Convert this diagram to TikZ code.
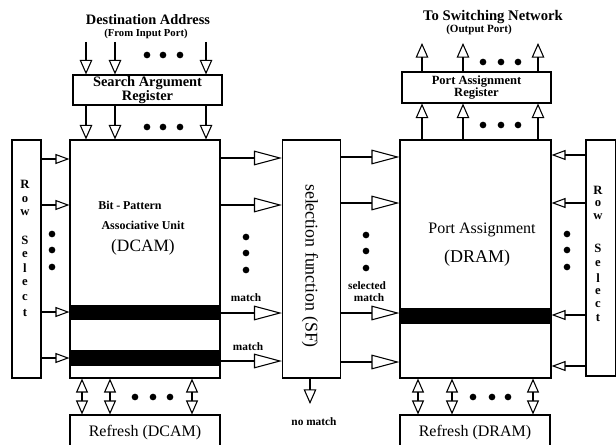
\documentclass[tikz,border=0pt]{standalone}
\usepackage{fontspec}
\setmainfont{Liberation Serif}
\usetikzlibrary{arrows.meta}
\begin{document}
\begin{tikzpicture}[x=0.75pt,y=-0.75pt,
  box/.style={draw, line width=0.8pt, inner sep=0pt},
  tri/.style={-{Triangle[open,length=11pt,width=9.5pt]}, line width=0.8pt},
  bigtri/.style={-{Triangle[open,length=21pt,width=11pt]}, line width=0.8pt},
  smtri/.style={-{Triangle[open,length=10.5pt,width=7.5pt]}, line width=0.8pt},
  bitri/.style={{Triangle[open,length=10.5pt,width=9pt]}-{Triangle[open,length=10.5pt,width=9pt]}, line width=0.8pt},
  dot/.style={circle, fill, inner sep=0pt, minimum size=5pt},
  bar/.style={fill=black, draw=none},
  sml/.style={inner sep=0pt, font=\fontsize{8.5}{8}\selectfont\bfseries},
  rs/.style={inner sep=0pt, font=\fontsize{9.5}{10}\selectfont\bfseries},
]
\useasboundingbox (0,0) rectangle (616,445);

% boxes
\node[box, minimum width=111.75pt, minimum height=22.5pt, align=center,
      font=\fontsize{10.8}{9}\selectfont\bfseries] (SAR) at (147.5,90) {Search Argument\\Register};
\node[box, minimum width=111.75pt, minimum height=23.25pt, align=center,
      font=\fontsize{9.4}{9.5}\selectfont\bfseries] (PAR) at (476.5,87.5) {Port Assignment\\Register};
\node[box, minimum width=112.5pt, minimum height=178.5pt] (DCAM) at (145,259) {};
\node[box, minimum width=21.75pt, minimum height=178.5pt] (RSL) at (26.5,259) {};
\node[box, minimum width=43.5pt, minimum height=178.5pt] (SF) at (311.5,259) {};
\node[box, minimum width=113.25pt, minimum height=178.5pt] (DRAM) at (475.5,259) {};
\node[box, minimum width=22.5pt, minimum height=177pt] (RSR) at (601,258) {};
\node[box, minimum width=112.5pt, minimum height=27.75pt] (RD) at (145,433.5) {};
\node[box, minimum width=112.5pt, minimum height=27.75pt] (RR) at (475,433.5) {};

% black bars
\fill[bar] (DCAM.west |- 0,305) rectangle (DCAM.east |- 0,320);
\fill[bar] (DCAM.west |- 0,350) rectangle (DCAM.east |- 0,366);
\fill[bar] (DRAM.west |- 0,308) rectangle (DRAM.east |- 0,324);

% texts
\node[inner sep=0pt, font=\fontsize{10.8}{11}\selectfont\bfseries] (t1) at (148,20) {Destination Address};
\node[inner sep=0pt, font=\fontsize{8}{8}\selectfont\bfseries] (t2) at (146,34) {(From Input Port)};
\node[inner sep=0pt, font=\fontsize{11}{11}\selectfont\bfseries] (t3) at (493,17) {To Switching Network};
\node[inner sep=0pt, font=\fontsize{8.3}{8}\selectfont\bfseries] (t4) at (479,30) {(Output Port)};
\node[inner sep=0pt, font=\fontsize{9}{9}\selectfont\bfseries] (t5) at (130,205) {Bit\hspace{2pt}-\hspace{2pt}Pattern};
\node[inner sep=0pt, font=\fontsize{9}{9}\selectfont\bfseries] (t6) at (143,225) {Associative Unit};
\node[inner sep=0pt, font=\fontsize{13}{13}\selectfont] (t7) at (143,247) {(DCAM)};
\node[inner sep=0pt, font=\fontsize{12}{12}\selectfont] (t8) at (482,230) {Port Assignment};
\node[inner sep=0pt, font=\fontsize{13.5}{13}\selectfont] (t9) at (477,258) {(DRAM)};
\node[inner sep=0pt, rotate=-90, font=\fontsize{13.4}{13}\selectfont] (t10) at (310,266) {selection function (SF)};
\node[inner sep=0pt, font=\fontsize{12}{12}\selectfont] (t11) at (145,433) {Refresh (DCAM)};
\node[inner sep=0pt, font=\fontsize{12}{12}\selectfont] (t12) at (475,433) {Refresh (DRAM)};
\node[sml] (m1) at (246,298) {match};
\node[sml] (m2) at (248,347) {match};
\node[sml] (m3) at (367,286) {selected};
\node[sml] (m4) at (369,298) {match};
\node[sml] (m5) at (314,422) {no match};

% row select letters
\foreach \l/\y [count=\i] in {R/184,o/200,w/213,S/240,e/255,l/268,e/283,c/298,t/313}
  \node[rs] (rl\i) at (25,\y) {\l};
\foreach \l/\y [count=\i] in {R/190,o/204,w/217,S/248,e/264,l/278,e/292,c/305,t/318}
  \node[rs] (rr\i) at (598,\y) {\l};

% top-left input arrows
\foreach \x in {86,115,206} {
  \draw[tri] (\x,42) -- (\x,0 |- SAR.north);
  \draw[tri] (\x,0 |- SAR.south) -- (\x,0 |- DCAM.north);
}
% top-right output arrows
\foreach \x in {422,463,538} {
  \draw[tri] (\x,0 |- PAR.north) -- (\x,43);
  \draw[tri] (\x,0 |- DRAM.north) -- (\x,0 |- PAR.south);
}
% row select arrows
\foreach \y in {159,205,312,358}
  \draw[smtri] (RSL.east |- 0,\y) -- (DCAM.west |- 0,\y);
\foreach \y in {155,203,315,366}
  \draw[smtri] (RSR.west |- 0,\y) -- (DRAM.east |- 0,\y);
% DCAM -> SF
\foreach \y in {158,205,313,361}
  \draw[bigtri] (DCAM.east |- 0,\y) -- (SF.west |- 0,\y);
% SF -> DRAM
\foreach \y in {157,203,313,362}
  \draw[bigtri] (SF.east |- 0,\y) -- (DRAM.west |- 0,\y);
% no match
\draw[tri] (310,0 |- SF.south) -- (310,404);
% refresh arrows
\foreach \x in {82,110,192}
  \draw[bitri] (\x,0 |- DCAM.south) -- (\x,0 |- RD.north);
\foreach \x in {418,452,533}
  \draw[bitri] (\x,0 |- DRAM.south) -- (\x,0 |- RR.north);

% dots
\foreach \x in {147,163,180} {
  \node[dot] at (\x,55) {};
  \node[dot] at (\x,127) {};
}
\foreach \x in {483,501,518} {
  \node[dot] at (\x,62) {};
  \node[dot] at (\x,125) {};
}
\foreach \x in {135,153,170} \node[dot] at (\x,397) {};
\foreach \x in {473,492,508} \node[dot] at (\x,397) {};
\foreach \y in {234,250,267} {
  \node[dot] at (52,\y) {};
  \node[dot] at (567,\y) {};
}
\foreach \y in {237,253,270} \node[dot] at (246,\y) {};
\foreach \y in {235,251,268} \node[dot] at (366,\y) {};
\end{tikzpicture}
\end{document}
